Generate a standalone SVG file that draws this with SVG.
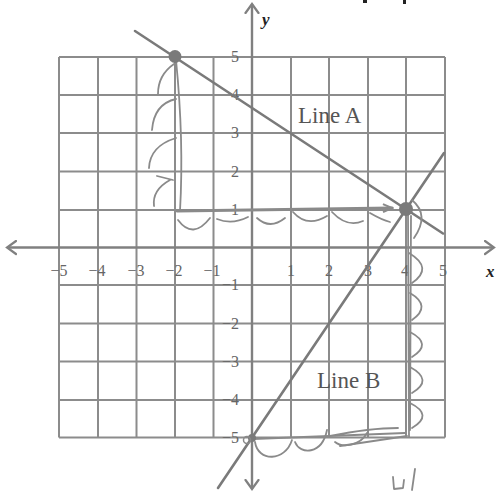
<svg xmlns="http://www.w3.org/2000/svg" width="497" height="491" viewBox="0 0 497 491">
<defs>
<style>
.grid{stroke:#8c8c8c;stroke-width:2;fill:none}
.axis{stroke:#808080;stroke-width:2.4;fill:none}
.ln{stroke:#7a7a7a;stroke-width:2.6;fill:none;stroke-linecap:round}
.pen{stroke:#8a8a8a;stroke-width:1.8;fill:none;stroke-linecap:round;stroke-linejoin:round}
.tk{font-family:"Liberation Serif","Times New Roman",serif;font-size:16px;fill:#666666}
.tx{font-family:"Liberation Serif","Times New Roman",serif;font-size:23px;fill:#555555}
.ax{font-family:"Liberation Serif","Times New Roman",serif;font-size:17px;font-style:italic;font-weight:bold;fill:#222}
.dot{fill:#7a7a7a}
</style>
<marker id="arr" viewBox="0 0 12 16" refX="10" refY="8" markerWidth="12" markerHeight="16" markerUnits="userSpaceOnUse" orient="auto-start-reverse">
<path d="M1,1.5 L10,8 L1,14.5" fill="none" stroke="#808080" stroke-width="2.2" stroke-linecap="round"/>
</marker>
<marker id="parr" viewBox="0 0 12 12" refX="10" refY="6" markerWidth="12" markerHeight="12" markerUnits="userSpaceOnUse" orient="auto">
<path d="M1,2 L10,6 L1,10" fill="none" stroke="#8a8a8a" stroke-width="2"/>
</marker>
</defs>
<rect width="497" height="491" fill="#ffffff"/>
<g id="grid" class="grid">
<path d="M59,57V437.5M98,57V437.5M136.5,57V437.5M175,57V437.5M213.5,57V437.5M291,57V437.5M329,57V437.5M368,57V437.5M406,57V437.5M445,57V437.5"/>
<path d="M59,57H445M59,95H445M59,133H445M59,171.5H445M59,210H445M59,285H445M59,323.5H445M59,361.5H445M59,400H445M59,437.5H445"/>
</g>
<g id="axes" class="axis">
<line id="x-axis" x1="7" y1="247.5" x2="494" y2="247.5" marker-start="url(#arr)" marker-end="url(#arr)"/>
<line id="y-axis" x1="252" y1="4" x2="252" y2="489" marker-start="url(#arr)" marker-end="url(#arr)"/>
</g>
<g id="tick-labels">
<text class="tk" x="59" y="276" text-anchor="middle">−5</text>
<text class="tk" x="97" y="276" text-anchor="middle">−4</text>
<text class="tk" x="136" y="276" text-anchor="middle">−3</text>
<text class="tk" x="174" y="276" text-anchor="middle">−2</text>
<text class="tk" x="212" y="276" text-anchor="middle">−1</text>
<text class="tk" x="291" y="276" text-anchor="middle">1</text>
<text class="tk" x="329" y="276" text-anchor="middle">2</text>
<text class="tk" x="368" y="276" text-anchor="middle">3</text>
<text class="tk" x="405" y="276" text-anchor="middle">4</text>
<text class="tk" x="443" y="276" text-anchor="middle">5</text>
<text class="tk" x="239" y="62" text-anchor="end">5</text>
<text class="tk" x="239" y="100" text-anchor="end">4</text>
<text class="tk" x="239" y="138" text-anchor="end">3</text>
<text class="tk" x="239" y="176.5" text-anchor="end">2</text>
<text class="tk" x="239" y="215" text-anchor="end">1</text>
<text class="tk" x="239" y="290" text-anchor="end">−1</text>
<text class="tk" x="239" y="328.5" text-anchor="end">−2</text>
<text class="tk" x="239" y="366.5" text-anchor="end">−3</text>
<text class="tk" x="239" y="405" text-anchor="end">−4</text>
<text class="tk" x="239" y="442.5" text-anchor="end">−5</text>
<text class="ax" x="262" y="25">y</text>
<text class="ax" x="486" y="277">x</text>
</g>
<g id="connectors">
<line id="line-a" class="ln" x1="135" y1="31" x2="443" y2="233.5"/>
<line id="line-b" class="ln" x1="218" y1="488" x2="444" y2="153"/>
</g>
<g id="label-line-a"><text class="tx" x="298" y="123">Line A</text></g>
<g id="label-line-b"><text class="tx" x="317" y="388">Line B</text></g>
<g id="pencil" class="pen">
<path d="M176,60 Q184,140 180,211"/>
<path d="M177,211 L392,208" stroke-width="3" marker-end="url(#parr)"/>
<path d="M174,64 Q158,75 158,94"/>
<path d="M176,99 Q154,104 152,130"/>
<path d="M176,138 Q150,146 149,168"/>
<path d="M157,176 L173,180 M170,180 Q152,190 154,206"/>
<path d="M178,220 Q193,240 210,218"/>
<path d="M217,219 Q232,225 248,217"/>
<path d="M257,218 Q270,230 285,218"/>
<path d="M293,212 Q307,228 327,216"/>
<path d="M332,212 Q347,228 363,221"/>
<path d="M370,213 Q382,220 390,222"/>
<path d="M408,212 L409,437 M411,216 L410,430"/>
<path d="M412,200 Q430,215 414,238"/>
<path d="M409,253 Q434,268 412,283"/>
<path d="M410,293 Q432,306 412,320"/>
<path d="M410,332 Q433,344 412,357"/>
<path d="M410,367 Q434,380 412,393"/>
<path d="M410,403 Q434,415 412,428"/>
<path d="M253,439 L405,433 M330,436 Q370,428 398,428"/>
<path d="M255,442 C258,462 285,462 292,440"/>
<path d="M295,442 C300,455 322,455 327,430"/>
<path d="M335,442 C342,448 360,446 367,433"/>
<path d="M340,446 L407,436"/>
<path d="M393,477 L394,489 L403,488 L404,480 M415,469 L412,490"/>
</g>
<g id="pt-minus2-5"><circle class="dot" cx="175" cy="56.5" r="6.5"/></g>
<g id="pt-4-1"><circle class="dot" cx="406" cy="209" r="7"/></g>
<g id="pt-0-minus5"><circle class="dot" cx="252" cy="438" r="4"/><circle cx="247" cy="440" r="3.5" fill="none" stroke="#8a8a8a" stroke-width="1.5"/></g>
<rect x="363" y="0" width="4" height="3" fill="#222"/>
<rect x="403" y="0" width="3" height="4" fill="#222"/>
</svg>
